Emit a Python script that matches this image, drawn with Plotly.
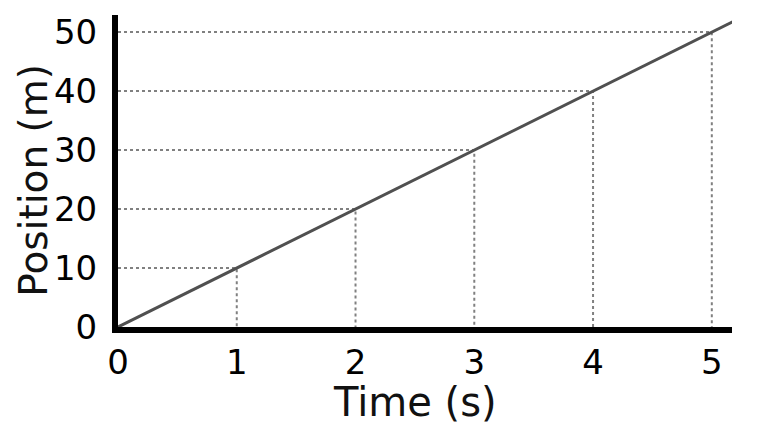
import plotly.graph_objects as go

# data
times = [0, 1, 2, 3, 4, 5]
positions = [0, 10, 20, 30, 40, 50]
# the drawn line runs a bit past the last point
line_time = [0, 5.18]
line_pos = [0, 51.8]

x_ticks = [0, 1, 2, 3, 4, 5]
y_ticks = [0, 10, 20, 30, 40, 50]

# drop lines: point -> x axis and point -> y axis
drop_x, drop_y = [], []
for t, p in zip(times[1:], positions[1:]):
    drop_x += [0, t, t, None]
    drop_y += [p, p, 0, None]

fig = go.Figure()
fig.add_trace(go.Scatter(x=drop_x, y=drop_y, mode="lines",
                         line=dict(color="#808080", width=2, dash="dot"),
                         hoverinfo="skip"))
fig.add_trace(go.Scatter(x=line_time, y=line_pos, mode="lines",
                         line=dict(color="#505050", width=3), cliponaxis=False))

axis_font = dict(family="DejaVu Sans", size=34, color="black")
title_font = dict(family="DejaVu Sans", size=40, color="#111")

fig.update_xaxes(range=[0, 5.17], tickvals=x_ticks, ticktext=[str(v) for v in x_ticks],
                 showgrid=False, zeroline=False, showline=True, linecolor="black",
                 linewidth=6, ticks="", tickfont=axis_font, automargin=False)
fig.update_yaxes(range=[0, 52.9], tickvals=y_ticks, ticktext=[str(v) for v in y_ticks],
                 showgrid=False, zeroline=False, showline=True, linecolor="black",
                 linewidth=6, ticks="", tickfont=axis_font, automargin=False,
                 ticklabelstandoff=8)

# axis titles as annotations so they sit where the original has them
fig.add_annotation(text="Time (s)", xref="paper", yref="paper", x=0.484, y=-0.24,
                   xanchor="center", yanchor="middle", showarrow=False, font=title_font)
fig.add_annotation(text="Position (m)", xref="paper", yref="paper", x=-0.139, y=0.471,
                   xanchor="center", yanchor="middle", showarrow=False, textangle=-90,
                   font=dict(family="DejaVu Sans", size=39, color="#111"), borderpad=0)

# page body adds ~8px offset, so margins are shifted to compensate
fig.update_layout(width=760, height=435, showlegend=False,
                  plot_bgcolor="white", paper_bgcolor="white",
                  margin=dict(l=110, r=36, t=7, b=116))

fig.write_html("out.html")
